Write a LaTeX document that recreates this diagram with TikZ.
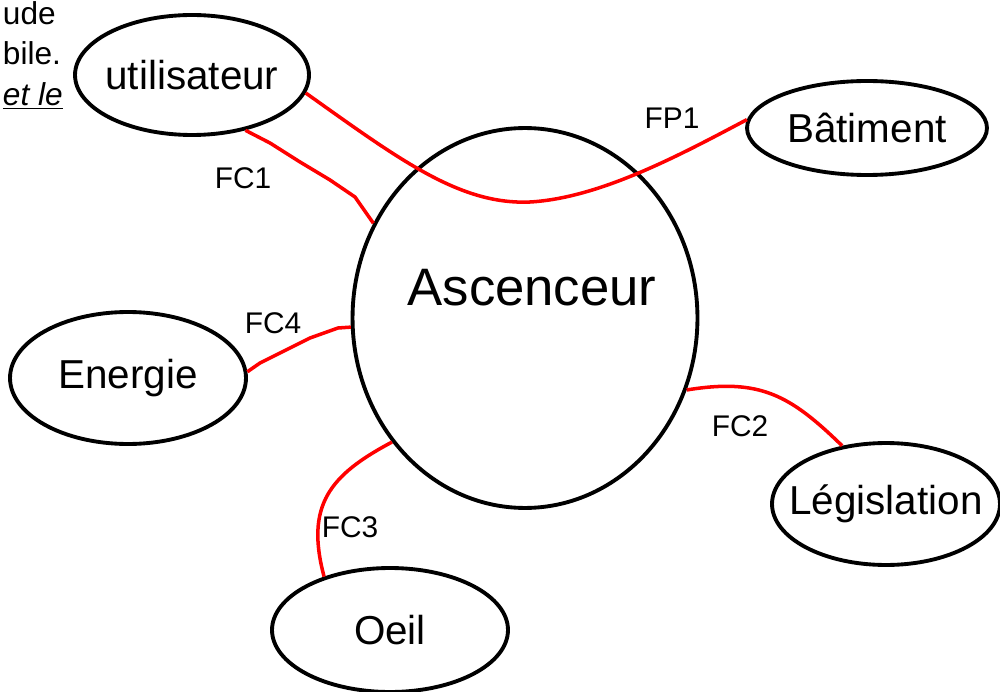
\documentclass[tikz,border=0pt]{standalone}
\usepackage{fontspec}
\setmainfont{Liberation Sans}
\usetikzlibrary{shapes.geometric}
\usetikzlibrary{positioning}

\begin{document}
\begin{tikzpicture}[x=0.02cm,y=-0.02cm,line width=2.2pt]
					\tikzstyle{bloc}=[draw,ellipse,inner sep=0pt]
					\tikzstyle{nom}=[font=\fontsize{23pt}{27pt}\selectfont,inner sep=0pt]
					\tikzstyle{lien}=[draw=red,line width=2pt]
					\tikzstyle{fc}=[font=\fontsize{17pt}{20pt}\selectfont]
					\tikzstyle{enhaut}=[font=\fontsize{18pt}{21pt}\selectfont,anchor=base west,inner sep=0pt]
					\useasboundingbox (0,0) rectangle (1000,692);
					
					\node[bloc,minimum width=4.68cm,minimum height=2.4cm,label={[nom]center:utilisateur}]  (U) at (192,75)  {};
					\node[bloc,minimum width=4.8cm,minimum height=1.88cm,label={[nom]center:Bâtiment}]     (B) at (867,128) {};
					\node[bloc,minimum width=6.9cm,minimum height=7.6cm,
						label={[nom,font=\fontsize{30pt}{36pt}\selectfont,xshift=0.14cm,yshift=0.6cm]center:Ascenceur}] (A) at (525,318) {};
					\node[bloc,minimum width=4.72cm,minimum height=2.64cm,label={[nom]center:Energie}]     (E) at (128,378) {};
					\node[bloc,minimum width=4.56cm,minimum height=2.44cm,label={[nom]center:Législation}] (L) at (886,504) {};
					\node[bloc,minimum width=4.72cm,minimum height=2.48cm,label={[nom]center:Oeil}]        (O) at (390,630) {};
					
					% texte du haut
					\node[enhaut] (t_1) at (1,25)   {ude};
					\node[enhaut] (t_2) at (1,65)   {bile.};
					\node[enhaut] (t_3) at (1,106)  {\underline{\textit{et le}}};
					
					% liaisons
					\path[lien] (U.-9) .. controls (400,160) and (460,205) .. (530,202)
					.. controls (600,198) and (680,155) .. (B.176);
					\path[lien] (U.-46) -- (270,143) -- (300,162) -- (330,180) -- (355,197) -- (A.148);
					\path[lien] (E.3) -- (260,363) -- (310,338) -- (338,328) -- (A.183);
					\path[lien] (A.223) .. controls (330,475) and (305,505) .. (O.141);
					\path[lien] (A.-24) .. controls (760,378) and (790,395) .. (L.127);
					
					\node[fc] (fp1) at (672,118) {FP1};
					\node[fc] (fc1) at (243,178) {FC1};
					\node[fc] (fc4) at (273,323) {FC4};
					\node[fc] (fc3) at (350,527) {FC3};
					\node[fc] (fc2) at (740,426) {FC2};
					
\end{tikzpicture}
\end{document}
